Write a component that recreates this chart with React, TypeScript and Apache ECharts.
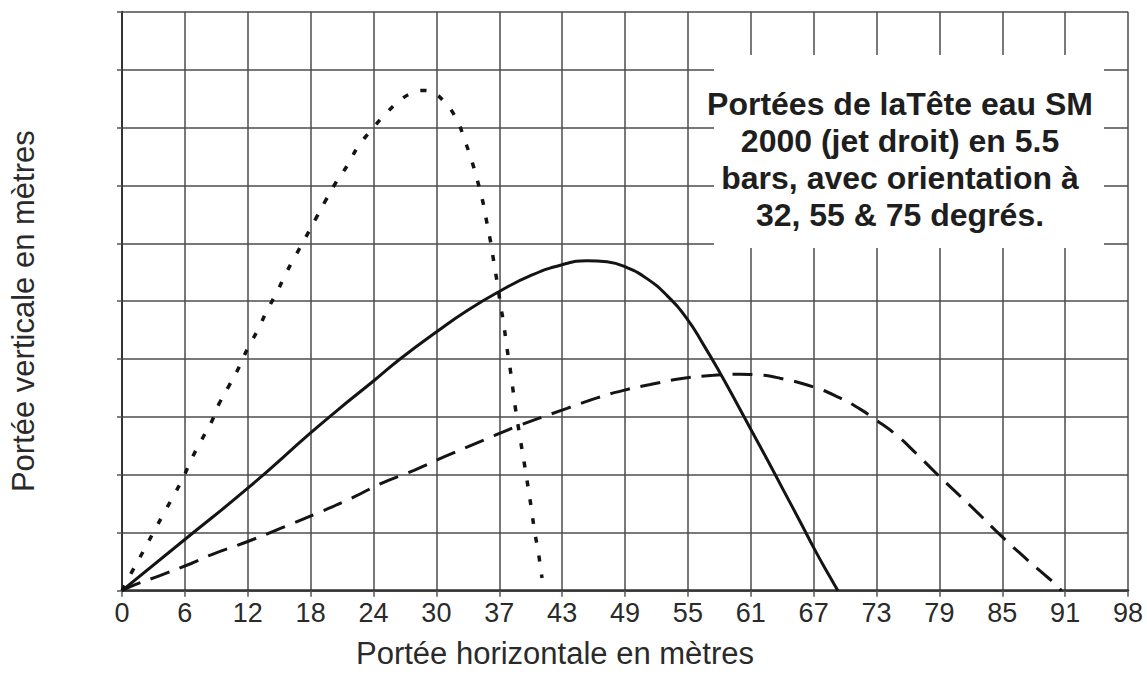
import React, { useEffect, useRef } from "react";
import * as echarts from "echarts";

// X tick labels (one per vertical grid line, 16 equal steps from 0 to 98)
const xTickLabels = ["0", "6", "12", "18", "24", "30", "37", "43", "49", "55", "61", "67", "73", "79", "85", "91", "98"];
const xMax = 98;
const xStep = xMax / 16;

// Vertical axis: 10 unlabelled grid steps
const yMax = 10;

// Trajectory at 75 degrees (dotted)
const jet75: number[][] = [
  [0, 0], [1.07, 0.36], [2.04, 0.67], [3.01, 0.99], [3.99, 1.31], [4.96, 1.62], [5.93, 1.94],
  [6.74, 2.26], [7.71, 2.59], [8.68, 2.9], [9.49, 3.24], [10.46, 3.55], [11.43, 3.87],
  [12.25, 4.19], [13.22, 4.5], [14.13, 4.84], [15.1, 5.16], [15.97, 5.48], [16.95, 5.8],
  [17.92, 6.11], [18.89, 6.43], [19.87, 6.75], [20.84, 7.05], [21.97, 7.35], [23.0, 7.67],
  [24.31, 7.96], [25.6, 8.22], [27.09, 8.47], [28.3, 8.6], [29.26, 8.64], [30.3, 8.6],
  [31.36, 8.45], [32.6, 8.14], [33.38, 7.78], [34.03, 7.45], [34.61, 7.09], [35.1, 6.76],
  [35.51, 6.39], [35.9, 6.03], [36.22, 5.68], [36.56, 5.31], [36.88, 4.93], [37.2, 4.59],
  [37.46, 4.24], [37.78, 3.87], [38.05, 3.52], [38.3, 3.18], [38.65, 2.78], [39.3, 2.08],
  [39.6, 1.74], [39.9, 1.39], [40.2, 1.02], [40.55, 0.67], [40.85, 0.3], [40.92, 0.22],
];

// Trajectory at 55 degrees (solid)
const jet55: number[][] = [
  [0, 0], [6.09, 0.88], [12.25, 1.77], [18.34, 2.72], [21.0, 3.12], [24.56, 3.63],
  [27.15, 4.01], [30.72, 4.48], [33.64, 4.84], [36.88, 5.18], [39.79, 5.44], [42.87, 5.63],
  [45.3, 5.7], [47.25, 5.68], [49.19, 5.58], [51.14, 5.39], [53.08, 5.1], [55.03, 4.7],
  [56.64, 4.25], [58.26, 3.76], [59.82, 3.26], [61.37, 2.75], [62.93, 2.24], [64.48, 1.72],
  [66.04, 1.2], [67.6, 0.67], [68.96, 0.24], [69.74, 0],
];

// Trajectory at 32 degrees (dashed)
const jet32: number[][] = [
  [0, 0], [1.22, 0.1], [3.82, 0.27], [6.74, 0.47], [8.68, 0.62], [12.25, 0.85], [15.49, 1.08],
  [19.06, 1.34], [22.61, 1.62], [25.21, 1.85], [28.45, 2.08], [31.36, 2.31], [35.25, 2.6],
  [38.5, 2.84], [43.36, 3.15], [46.28, 3.33], [48.86, 3.46], [51.46, 3.56], [54.37, 3.66],
  [57.61, 3.72], [60.21, 3.74], [61.83, 3.73], [64.1, 3.67], [67.34, 3.52], [69.93, 3.33],
  [71.87, 3.14], [73.36, 2.96], [75.36, 2.7], [77.37, 2.37], [79.36, 2.02], [81.37, 1.68],
  [83.39, 1.34], [85.39, 0.99], [87.39, 0.66], [89.38, 0.35], [91.2, 0.07], [91.5, 0],
];

const titleLines = [
  "Portées de laTête eau SM",
  "2000 (jet droit) en 5.5",
  "bars, avec orientation à",
  "32, 55 & 75 degrés.",
];

const FONT = "'Liberation Sans', Arial, Helvetica, sans-serif";
const GRID_COLOR = "#4d4d4d";
const INK = "#141414";

export default function App() {
  const ref = useRef<HTMLDivElement>(null);

  useEffect(() => {
    if (!ref.current) return;
    const chart = echarts.init(ref.current, undefined, { renderer: "svg" });
    chart.setOption({
      animation: false,
      backgroundColor: "#ffffff",
      grid: { left: 120.7, right: 19, top: 11.7, bottom: 83.3, containLabel: false },
      xAxis: {
        type: "value",
        min: 0,
        max: xMax,
        interval: xStep,
        name: "Portée horizontale en mètres",
        nameLocation: "middle",
        nameGap: 47,
        nameTextStyle: { fontFamily: FONT, fontSize: 31, color: "#2a2a2a", padding: [0, 140, 0, 0] },
        axisLine: { show: true, onZero: false, lineStyle: { color: "#333", width: 2.5 } },
        axisTick: { show: true, inside: false, length: 6, lineStyle: { color: "#555", width: 1.5 } },
        axisLabel: {
          margin: 9,
          fontFamily: FONT,
          fontSize: 27,
          color: "#2a2a2a",
          showMaxLabel: true,
          showMinLabel: true,
          formatter: (v: number) => xTickLabels[Math.round(v / xStep)] ?? "",
        },
        splitLine: { show: true, lineStyle: { color: GRID_COLOR, width: 1.5 } },
      },
      yAxis: {
        type: "value",
        min: 0,
        max: yMax,
        interval: 1,
        name: "Portée verticale en mètres",
        nameLocation: "middle",
        nameGap: 83,
        nameTextStyle: { fontFamily: FONT, fontSize: 31, color: "#2a2a2a", padding: [0, 20, 0, 0] },
        axisLine: { show: true, lineStyle: { color: "#333", width: 2 } },
        axisTick: { show: true, inside: false, length: 5, lineStyle: { color: "#555", width: 1.5 } },
        axisLabel: { show: false },
        splitLine: { show: true, lineStyle: { color: GRID_COLOR, width: 1.5 } },
      },
      graphic: [
        {
          type: "rect",
          shape: { x: 714, y: 55, width: 390, height: 193 },
          style: { fill: "#ffffff" },
          z: 10,
        },
        {
          type: "text",
          x: 900,
          y: 159,
          z: 11,
          style: {
            text: titleLines.join("\n"),
            fontFamily: FONT,
            fontWeight: "bold",
            fontSize: 32,
            lineHeight: 37,
            fill: "#1e1e1e",
            align: "center",
            verticalAlign: "middle",
          },
        },
      ],
      series: [
        {
          name: "75°",
          type: "line",
          data: jet75,
          showSymbol: false,
          smooth: 0.5,
          lineStyle: { color: INK, width: 3.5, type: [6, 13] },
          z: 5,
        },
        {
          name: "55°",
          type: "line",
          data: jet55,
          showSymbol: false,
          smooth: 0.5,
          lineStyle: { color: INK, width: 3, type: "solid" },
          z: 5,
        },
        {
          name: "32°",
          type: "line",
          data: jet32,
          showSymbol: false,
          smooth: 0.5,
          lineStyle: { color: INK, width: 3, type: [20, 11] },
          z: 5,
        },
      ],
    });
    return () => chart.dispose();
  }, []);

  return (
    <div
      ref={ref}
      style={{ position: "fixed", left: 0, top: 0, width: 1147, height: 674, background: "#fff" }}
    />
  );
}
